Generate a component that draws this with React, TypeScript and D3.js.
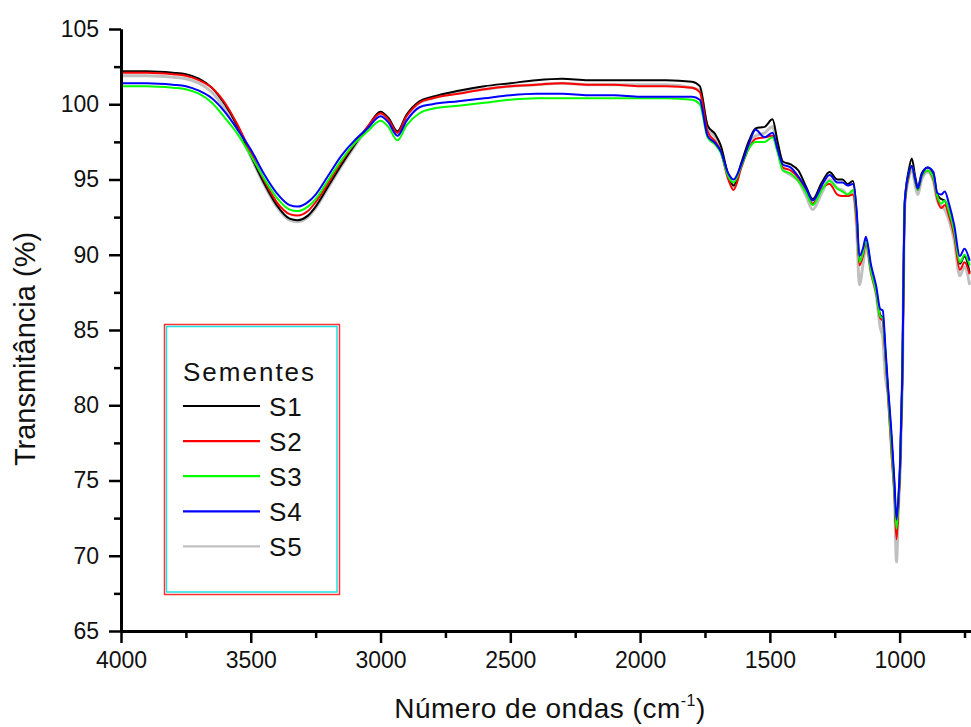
import React, { useEffect, useRef } from 'react';
import * as d3 from 'd3';

// wavenumber grid (cm-1)
const wavenumbers = [
  4000, 3900, 3800, 3750, 3700, 3650, 3600, 3550, 3500, 3450, 3400, 3350, 3320, 3280, 3250, 3200,
  3150, 3100, 3050, 3000, 2970, 2935, 2900, 2850, 2800, 2700, 2600, 2500, 2400, 2300, 2200, 2100,
  2000, 1900, 1800, 1770, 1740, 1710, 1690, 1660, 1640, 1610, 1580, 1555, 1520, 1490, 1470, 1450,
  1420, 1390, 1360, 1335, 1300, 1270, 1240, 1220, 1200, 1180, 1165, 1155, 1140, 1130, 1110, 1090,
  1075, 1065, 1055, 1045, 1030, 1020, 1012, 1005, 998, 990, 980, 965, 953, 940, 930, 915,
  892, 870, 855, 840, 826, 810, 790, 768, 750, 730,
];

const s1 = [
  102.2, 102.2, 102.1, 102.0, 101.7, 101.1, 100.0, 98.5, 96.6, 94.8, 93.3, 92.4, 92.3, 92.6, 93.2, 94.6,
  96.0, 97.3, 98.5, 99.5, 99.1, 98.2, 99.3, 100.2, 100.5, 100.9, 101.2, 101.4, 101.6, 101.7, 101.6, 101.6,
  101.6, 101.6, 101.5, 101.2, 98.6, 98.0, 97.3, 95.3, 94.6, 96.1, 97.6, 98.4, 98.5, 99.0, 97.5, 96.2,
  96.0, 95.6, 94.5, 93.7, 94.8, 95.5, 95.0, 95.0, 94.7, 94.9, 92.5, 89.5, 90.2, 91.0, 89.0, 87.6,
  86.0, 85.8, 83.5, 81.0, 77.3, 74.5, 71.5, 73.4, 76.0, 81.5, 93.5, 95.6, 96.4, 95.2, 94.5, 95.4,
  95.8, 95.4, 94.0, 93.7, 93.6, 92.9, 91.6, 89.4, 89.9, 88.8,
];

const s2 = [
  102.1, 102.1, 102.0, 101.9, 101.6, 101.1, 100.1, 98.6, 96.8, 95.0, 93.5, 92.7, 92.6, 92.9, 93.5, 94.8,
  96.2, 97.4, 98.5, 99.4, 99.0, 98.1, 99.2, 100.1, 100.4, 100.7, 101.0, 101.2, 101.3, 101.4, 101.3, 101.3,
  101.2, 101.2, 101.1, 100.8, 98.2, 97.5, 96.9, 95.0, 94.3, 95.8, 97.1, 97.7, 97.8, 97.9, 96.9, 95.8,
  95.6, 95.1, 94.2, 93.4, 94.4, 94.7, 94.0, 93.9, 93.9, 94.0, 92.0, 89.3, 90.0, 90.8, 88.8, 87.4,
  85.8, 85.6, 83.3, 80.7, 76.5, 74.0, 71.1, 73.2, 75.8, 81.3, 93.3, 95.2, 95.9, 94.9, 94.3, 95.2,
  95.6, 95.0, 93.7, 93.1, 93.3, 92.6, 91.3, 89.0, 89.5, 88.7,
];

const s3 = [
  101.2, 101.2, 101.1, 101.0, 100.7, 100.1, 99.1, 98.0, 96.6, 95.1, 93.8, 93.0, 92.9, 93.2, 93.7, 95.0,
  96.3, 97.4, 98.2, 98.9, 98.5, 97.6, 98.6, 99.4, 99.7, 99.9, 100.1, 100.3, 100.4, 100.4, 100.4, 100.4,
  100.4, 100.4, 100.3, 100.0, 97.8, 97.3, 96.8, 95.2, 94.8, 95.9, 97.1, 97.5, 97.5, 97.8, 96.8, 95.6,
  95.4, 94.9, 94.1, 93.3, 94.3, 94.9, 94.4, 94.2, 94.0, 94.3, 92.4, 89.5, 90.2, 90.9, 88.9, 87.5,
  85.9, 85.8, 83.5, 80.9, 77.0, 74.2, 71.8, 73.5, 76.0, 81.5, 93.5, 95.3, 95.9, 94.9, 94.3, 95.2,
  95.6, 95.1, 93.9, 93.4, 93.6, 92.9, 91.6, 89.5, 90.0, 89.3,
];

const s4 = [
  101.4, 101.4, 101.3, 101.2, 100.9, 100.4, 99.5, 98.3, 97.0, 95.4, 94.1, 93.3, 93.2, 93.5, 94.0, 95.3,
  96.6, 97.6, 98.4, 99.2, 98.8, 97.9, 98.9, 99.8, 100.0, 100.2, 100.4, 100.6, 100.7, 100.7, 100.6, 100.6,
  100.5, 100.5, 100.5, 100.3, 97.9, 97.4, 96.9, 95.4, 95.0, 96.0, 97.4, 98.3, 97.8, 98.1, 97.0, 96.0,
  95.8, 95.2, 94.4, 93.6, 94.6, 95.3, 94.8, 94.8, 94.6, 94.7, 92.8, 89.9, 90.5, 91.2, 89.3, 87.9,
  86.4, 86.3, 83.9, 81.3, 77.8, 74.9, 72.4, 73.8, 76.3, 81.8, 93.6, 95.4, 95.9, 95.0, 94.4, 95.3,
  95.8, 95.5, 94.1, 94.0, 94.2, 93.4, 92.0, 89.9, 90.4, 89.6,
];

const s5 = [
  101.9, 101.9, 101.8, 101.7, 101.4, 100.8, 99.7, 98.3, 96.5, 94.7, 93.2, 92.3, 92.2, 92.5, 93.1, 94.5,
  95.9, 97.2, 98.4, 99.4, 99.0, 98.1, 99.2, 100.1, 100.4, 100.8, 101.0, 101.2, 101.3, 101.4, 101.3, 101.3,
  101.3, 101.3, 101.1, 100.9, 98.4, 97.8, 97.1, 95.1, 94.5, 95.9, 97.3, 97.9, 98.1, 98.5, 97.1, 95.7,
  95.3, 94.9, 93.9, 93.0, 94.1, 95.0, 94.4, 94.3, 94.0, 94.2, 91.5, 88.0, 89.5, 90.6, 88.8, 87.3,
  85.2, 84.5, 81.9, 80.8, 76.8, 74.2, 69.6, 73.0, 75.6, 81.2, 93.3, 95.1, 95.7, 94.6, 94.0, 95.0,
  95.5, 94.9, 93.6, 93.2, 93.0, 92.3, 91.0, 88.6, 89.2, 88.0,
];

const seriesNames = ['S1', 'S2', 'S3', 'S4', 'S5'];
const seriesValues = [s1, s2, s3, s4, s5];
const seriesColors = ['#000000', '#ff0000', '#00ff00', '#0000ff', '#c0c0c0'];
// S5 is drawn first and a bit wider, the others go on top of it
const drawOrder = [4, 0, 1, 2, 3];

const xTicks = [4000, 3500, 3000, 2500, 2000, 1500, 1000];
const xMinorTicks = [3750, 3250, 2750, 2250, 1750, 1250, 750];
const yTicks = [65, 70, 75, 80, 85, 90, 95, 100, 105];
const yMinorTicks = [67.5, 72.5, 77.5, 82.5, 87.5, 92.5, 97.5, 102.5];

const W = 971;
const H = 727;
const FONT = "'Liberation Sans', Arial, sans-serif";

export default function App() {
  const svgRef = useRef<SVGSVGElement>(null);

  useEffect(() => {
    if (!svgRef.current) return;
    const svg = d3.select(svgRef.current);
    svg.selectAll('*').remove();

    const x = d3.scaleLinear().domain([4000, 725]).range([121, 971]);
    const y = d3.scaleLinear().domain([65, 105]).range([631, 29]);

    // spectra
    const line = d3.line<number>()
      .x((_, i) => x(wavenumbers[i]))
      .y(d => y(d))
      .curve(d3.curveMonotoneX);

    const plot = svg.append('g');
    drawOrder.forEach(k => {
      plot.append('path')
        .datum(seriesValues[k])
        .attr('d', line)
        .attr('fill', 'none')
        .attr('stroke', seriesColors[k])
        .attr('stroke-width', k === 4 ? 3 : 2)
        .attr('stroke-linejoin', 'round');
    });

    // axes
    const styleAxis = (g: any) => {
      g.select('.domain').attr('stroke', '#000').attr('stroke-width', 3);
      g.selectAll('.tick line').attr('stroke', '#000').attr('stroke-width', 2.5);
      g.selectAll('.tick text')
        .attr('fill', '#111')
        .attr('font-size', 23)
        .attr('font-family', FONT);
    };

    svg.append('g')
      .attr('transform', 'translate(0,631)')
      .call(d3.axisBottom(x).tickValues(xMinorTicks).tickSize(7).tickSizeOuter(0).tickFormat(() => ''))
      .call(styleAxis);
    svg.append('g')
      .attr('transform', 'translate(0,631)')
      .call(d3.axisBottom(x).tickValues(xTicks).tickSize(12).tickSizeOuter(0).tickPadding(9).tickFormat(d3.format('d')))
      .call(styleAxis);

    svg.append('g')
      .attr('transform', 'translate(121,0)')
      .call(d3.axisLeft(y).tickValues(yMinorTicks).tickSize(7).tickSizeOuter(0).tickFormat(() => ''))
      .call(styleAxis);
    svg.append('g')
      .attr('transform', 'translate(121,0)')
      .call(d3.axisLeft(y).tickValues(yTicks).tickSize(12).tickSizeOuter(0).tickPadding(10).tickFormat(d3.format('d')))
      .call(styleAxis);

    // axis titles
    const xt = svg.append('text')
      .attr('x', 550)
      .attr('y', 718)
      .attr('text-anchor', 'middle')
      .attr('font-size', 28)
      .attr('font-family', FONT)
      .attr('letter-spacing', 0.5)
      .attr('fill', '#111');
    xt.append('tspan').text('Número de ondas (cm');
    xt.append('tspan').attr('font-size', 16).attr('dy', -12).text('-1');
    xt.append('tspan').attr('dy', 12).text(')');

    svg.append('text')
      .attr('transform', 'translate(35,349) rotate(-90)')
      .attr('text-anchor', 'middle')
      .attr('font-size', 29)
      .attr('font-family', FONT)
      .attr('fill', '#111')
      .text('Transmitância (%)');

    // legend
    const legend = svg.append('g');
    legend.append('rect')
      .attr('x', 164.5).attr('y', 324.5)
      .attr('width', 175).attr('height', 270)
      .attr('fill', '#fff')
      .attr('stroke', '#ff3030')
      .attr('stroke-width', 1.5);
    legend.append('rect')
      .attr('x', 166.5).attr('y', 326.5)
      .attr('width', 170.5).attr('height', 265.5)
      .attr('fill', 'none')
      .attr('stroke', '#20e0e0')
      .attr('stroke-width', 1.5);

    legend.append('text')
      .attr('x', 183)
      .attr('y', 381)
      .attr('font-size', 26)
      .attr('font-family', FONT)
      .attr('letter-spacing', 2)
      .attr('fill', '#111')
      .text('Sementes');

    seriesNames.forEach((name, i) => {
      const ly = 406 + i * 35.1;
      legend.append('line')
        .attr('x1', 183).attr('x2', 260)
        .attr('y1', ly).attr('y2', ly)
        .attr('stroke', seriesColors[i])
        .attr('stroke-width', 2.2);
      legend.append('text')
        .attr('x', 269)
        .attr('y', ly + 9.5)
        .attr('font-size', 26)
        .attr('font-family', FONT)
        .attr('letter-spacing', 0.8)
        .attr('fill', '#111')
        .text(name);
    });
  }, []);

  return (
    <svg
      ref={svgRef}
      width={W}
      height={H}
      style={{ position: 'absolute', left: 0, top: 0, background: '#fff' }}
    />
  );
}
